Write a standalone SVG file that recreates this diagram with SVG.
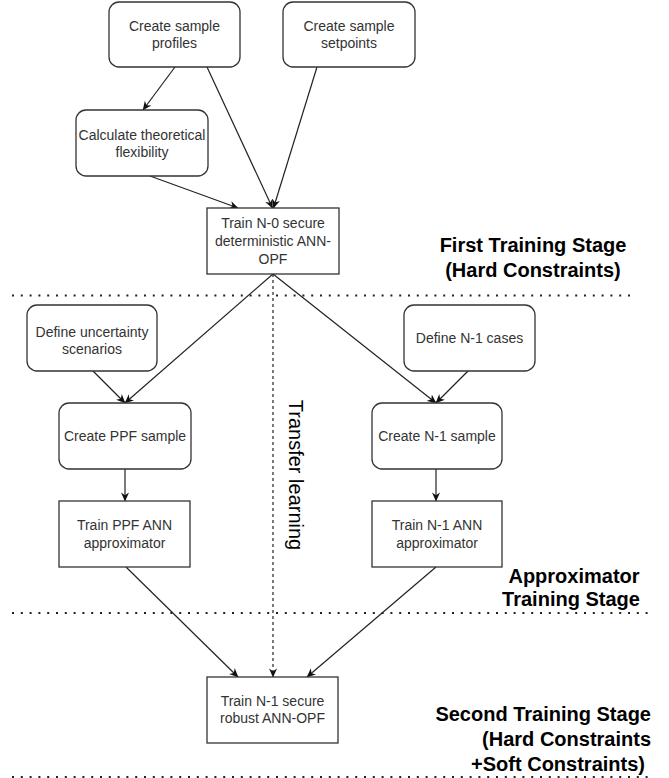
<svg xmlns="http://www.w3.org/2000/svg" width="669" height="778" viewBox="0 0 669 778">
<style>
.box{fill:#fff;stroke:#333;stroke-width:1.3}
.t{font-family:"Liberation Sans",Arial,sans-serif;font-size:14px;fill:#333;text-anchor:middle}
.b{font-family:"Liberation Sans",Arial,sans-serif;font-size:20px;font-weight:bold;fill:#000}
.e{fill:none;stroke:#222;stroke-width:1.2}
.d{fill:none;stroke:#222;stroke-width:1.2;stroke-dasharray:3 3}
.sep{fill:none;stroke:#222;stroke-width:2;stroke-dasharray:2 6.8}
</style>
<defs>
<marker id="ah" viewBox="0 0 10 10" refX="9.5" refY="5" markerWidth="9" markerHeight="9" markerUnits="userSpaceOnUse" orient="auto">
<path d="M0,0.5 L10,5 L0,9.5 L3,5 z" fill="#111"/>
</marker>
</defs>
<g id="separators">
<line class="sep" x1="12" y1="295.5" x2="634" y2="295.5"/>
<line class="sep" x1="12" y1="613" x2="654" y2="613"/>
<line class="sep" x1="12" y1="777" x2="654" y2="777"/>
</g>
<g id="connectors">
<line class="e" x1="175" y1="67" x2="143" y2="110" marker-end="url(#ah)"/>
<line class="e" x1="207" y1="67" x2="272.5" y2="208" marker-end="url(#ah)"/>
<line class="e" x1="317" y1="67" x2="273.5" y2="208" marker-end="url(#ah)"/>
<line class="e" x1="150" y1="176" x2="238" y2="208" marker-end="url(#ah)"/>
<line class="e" x1="273" y1="274" x2="125" y2="403" marker-end="url(#ah)"/>
<line class="e" x1="273" y1="274" x2="436" y2="403" marker-end="url(#ah)"/>
<line class="e" x1="93" y1="371" x2="125" y2="403" marker-end="url(#ah)"/>
<line class="e" x1="468" y1="371" x2="436" y2="403" marker-end="url(#ah)"/>
<line class="e" x1="125" y1="469" x2="125" y2="501" marker-end="url(#ah)"/>
<line class="e" x1="436" y1="469" x2="436" y2="501" marker-end="url(#ah)"/>
<line class="e" x1="126" y1="567" x2="238" y2="677" marker-end="url(#ah)"/>
<line class="e" x1="436" y1="567" x2="307" y2="677" marker-end="url(#ah)"/>
<line class="d" x1="273" y1="274" x2="273" y2="677" marker-end="url(#ah)"/>
</g>
<g id="n-profiles">
<rect class="box" x="109" y="2" width="131" height="65" rx="10"/>
<text class="t" x="174.5" y="31">Create sample</text>
<text class="t" x="174.5" y="48">profiles</text>
</g>
<g id="n-setpoints">
<rect class="box" x="283" y="2" width="132" height="65" rx="10"/>
<text class="t" x="349" y="31">Create sample</text>
<text class="t" x="349" y="48">setpoints</text>
</g>
<g id="n-flex">
<rect class="box" x="76" y="110" width="132" height="66" rx="10"/>
<text class="t" x="142" y="140">Calculate theoretical</text>
<text class="t" x="142" y="157">flexibility</text>
</g>
<g id="n-n0">
<rect class="box" x="207" y="208" width="132" height="66"/>
<text class="t" x="273" y="228">Train N-0 secure</text>
<text class="t" x="273" y="246">deterministic ANN-</text>
<text class="t" x="273" y="264">OPF</text>
</g>
<g id="n-uncert">
<rect class="box" x="27" y="305" width="130" height="66" rx="10"/>
<text class="t" x="92" y="337">Define uncertainty</text>
<text class="t" x="92" y="354">scenarios</text>
</g>
<g id="n-n1cases">
<rect class="box" x="404" y="305" width="131" height="66" rx="10"/>
<text class="t" x="469.5" y="343">Define N-1 cases</text>
</g>
<g id="n-ppfsample">
<rect class="box" x="59" y="403" width="132" height="66" rx="10"/>
<text class="t" x="125" y="441">Create PPF sample</text>
</g>
<g id="n-n1sample">
<rect class="box" x="372" y="403" width="130" height="66" rx="10"/>
<text class="t" x="437" y="441">Create N-1 sample</text>
</g>
<g id="n-ppfann">
<rect class="box" x="59" y="501" width="131" height="66"/>
<text class="t" x="124.5" y="530">Train PPF ANN</text>
<text class="t" x="124.5" y="548">approximator</text>
</g>
<g id="n-n1ann">
<rect class="box" x="372" y="501" width="130" height="66"/>
<text class="t" x="437" y="530">Train N-1 ANN</text>
<text class="t" x="437" y="548">approximator</text>
</g>
<g id="n-robust">
<rect class="box" x="207" y="677" width="131" height="66"/>
<text class="t" x="272.5" y="706">Train N-1 secure</text>
<text class="t" x="272.5" y="723">robust ANN-OPF</text>
</g>
<g id="labels">
<text class="b" x="533" y="252" text-anchor="middle">First Training Stage</text>
<text class="b" x="533" y="277" text-anchor="middle">(Hard Constraints)</text>
<text class="b" x="574" y="583" text-anchor="middle">Approximator</text>
<text class="b" x="571" y="606" text-anchor="middle">Training Stage</text>
<text class="b" x="651" y="721" text-anchor="end">Second Training Stage</text>
<text class="b" x="651" y="746" text-anchor="end">(Hard Constraints</text>
<text class="b" x="645" y="771" text-anchor="end">+Soft Constraints)</text>
<text font-family="'Liberation Sans',Arial,sans-serif" font-size="20" fill="#000" text-anchor="middle" transform="translate(288.5,475) rotate(90)">Transfer learning</text>
</g>
</svg>
